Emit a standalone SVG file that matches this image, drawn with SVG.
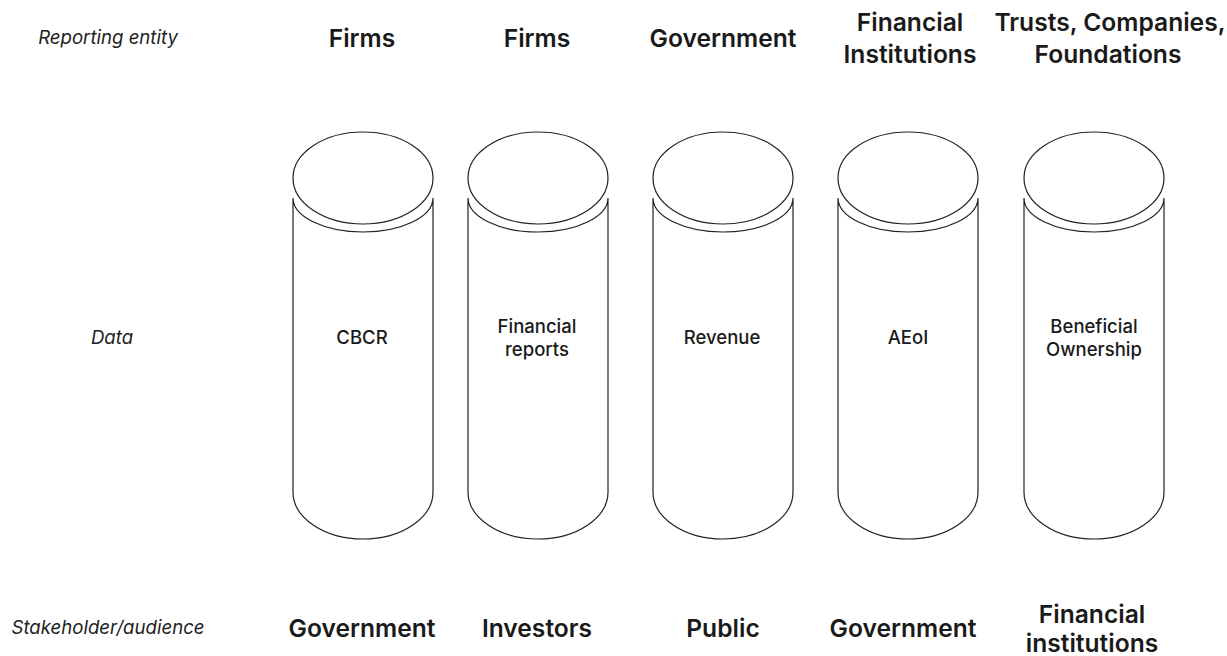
<svg xmlns="http://www.w3.org/2000/svg" width="1227" height="656" viewBox="0 0 1227 656">
  <defs>
    <style>
      .row { font-family: Inter, "Liberation Sans", sans-serif; font-style: italic; font-size: 18.6px; fill: #222; text-anchor: middle; }
      .head { font-family: Inter, "Liberation Sans", sans-serif; font-weight: 600; font-size: 24.6px; fill: #1a1a1a; text-anchor: middle; }
      .inner { font-family: Inter, "Liberation Sans", sans-serif; font-weight: 500; font-size: 18.5px; fill: #1a1a1a; text-anchor: middle; }
      .cyl { fill: #fff; stroke: #222; stroke-width: 1.2; }
    </style>
    <!-- cylinder centred on x=0 -->
    <g id="cylinder">
      <path class="cyl" d="M -70 198 A 70 34 0 0 0 70 198 L 70 492 A 70 47 0 0 1 -70 492 Z"/>
      <ellipse class="cyl" cx="0" cy="178" rx="70" ry="46"/>
    </g>
  </defs>
  <rect width="1227" height="656" fill="#fff"/>

  <!-- row labels -->
  <g id="row-labels">
    <text class="row" x="108" y="44">Reporting entity</text>
    <text class="row" x="112" y="344">Data</text>
    <text class="row" x="108" y="634">Stakeholder/audience</text>
  </g>

  <g id="col-cbcr">
    <text class="head" x="362" y="47">Firms</text>
    <use href="#cylinder" x="363"/>
    <text class="inner" x="362" y="344">CBCR</text>
    <text class="head" x="362" y="637">Government</text>
  </g>

  <g id="col-financial-reports">
    <text class="head" x="537" y="47">Firms</text>
    <use href="#cylinder" x="538"/>
    <text class="inner" x="537" y="333">Financial</text>
    <text class="inner" x="537" y="356">reports</text>
    <text class="head" x="537" y="637">Investors</text>
  </g>

  <g id="col-revenue">
    <text class="head" x="723" y="47">Government</text>
    <use href="#cylinder" x="723"/>
    <text class="inner" x="722" y="344">Revenue</text>
    <text class="head" x="723" y="637">Public</text>
  </g>

  <g id="col-aeoi">
    <text class="head" x="910" y="31">Financial</text>
    <text class="head" x="910" y="63">Institutions</text>
    <use href="#cylinder" x="908"/>
    <text class="inner" x="908" y="344">AEoI</text>
    <text class="head" x="903" y="637">Government</text>
  </g>

  <g id="col-beneficial-ownership">
    <text class="head" x="1110" y="31">Trusts, Companies,</text>
    <text class="head" x="1108" y="63">Foundations</text>
    <use href="#cylinder" x="1094"/>
    <text class="inner" x="1094" y="333">Beneficial</text>
    <text class="inner" x="1094" y="356">Ownership</text>
    <text class="head" x="1092" y="623">Financial</text>
    <text class="head" x="1092" y="652">institutions</text>
  </g>

  <!-- no connectors are drawn between the columns -->
  <g id="connectors"/>
</svg>
